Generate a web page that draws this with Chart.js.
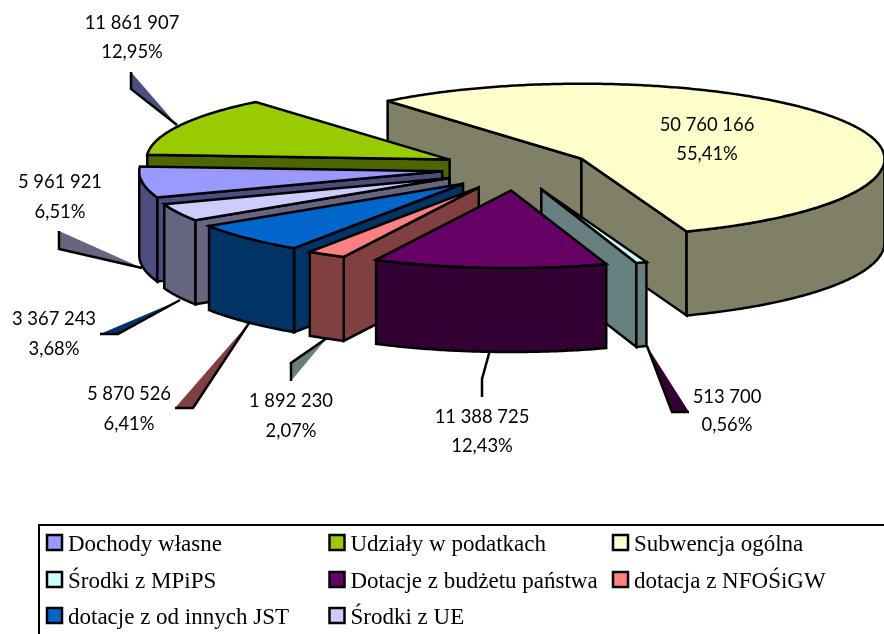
<!DOCTYPE html>
<html><head><meta charset="utf-8">
<style>html,body{margin:0;padding:0;background:#fff;overflow:hidden}canvas{display:block}</style>
<script src="https://cdn.jsdelivr.net/npm/chart.js@4/dist/chart.umd.min.js"></script>
</head><body><canvas id="c" width="884" height="634"></canvas>
<script>
const categories = ["Dochody własne","Udziały w podatkach","Subwencja ogólna","Środki z MPiPS","Dotacje z budżetu państwa","dotacja z NFOŚiGW","dotacje z od innych JST","Środki z UE"];
const amounts = [5961921,11861907,50760166,513700,11388725,1892230,5870526,3367243];
const percents = ["6,51%","12,95%","55,41%","0,56%","12,43%","2,07%","6,41%","3,68%"];
const sliceColors = ["#9999FF","#99CC00","#FFFFCC","#CCFFFF","#660066","#FF8080","#0066CC","#CCCCFF"];
const wallColors = ["#4D4D80","#4D6600","#808066","#668080","#330033","#804040","#003366","#666680"];

// Layout of the 3D projection and of the annotations (not data)
const K_BACK = 0.2475, K_FRONT = 0.256, K_OFF_FRONT = 0.3, DEPTH = 84, EXPLODE = 75, LW = 2.5;
const labelPos = [[60,182,30],[132,23,29],[707,125,29],[727,397,28],[482,417,29],[291,401,30],[129,394,30],[54,319,30]];
// leader wedges: fill polygon + stroked polyline
const leaders = [
 {fill:"#666680",poly:[[59,231],[59,249],[142,268]],line:[[59,231],[59,249],[142,268]]},
 {fill:"#4D4D80",poly:[[131,72],[131,89],[177,125]],line:[[131,72],[131,89],[177,125]]},
 {fill:"#330033",poly:[[647,346],[672,412],[689,412]],line:[[647,346],[672,412],[689,412]]},
 {fill:null,poly:null,line:[[490,350],[482,379],[482,397]]},
 {fill:"#668080",poly:[[291,363],[291,381],[327,338]],line:[[291,381],[291,363],[327,338]]},
 {fill:"#804040",poly:[[175,408],[193,408],[249,323]],line:[[175,408],[193,408],[249,323]]},
 {fill:"#003366",poly:[[100,334],[118,334],[180,300]],line:[[100,334],[118,334],[180,300]]}
];
const legendBox = {x:39,y:525};
const legendCols = [47,329.5,613], legendRows = [535,572,608], SW = 15;

function fmt(n){return String(n).replace(/\B(?=(\d{3})+$)/g," ");}

const pie3d = {
  id:"pie3d",
  beforeDatasetDraw(chart,args){
    const ctx = chart.ctx, arcs = args.meta.data;
    ctx.save();
    ctx.lineWidth = LW; ctx.lineJoin = "miter"; ctx.miterLimit = 4; ctx.strokeStyle = "#000";
    leaders.forEach(l=>{
      if(l.poly){ctx.beginPath();l.poly.forEach((p,i)=>i?ctx.lineTo(p[0],p[1]):ctx.moveTo(p[0],p[1]));ctx.closePath();ctx.fillStyle=l.fill;ctx.fill();}
      ctx.beginPath();l.line.forEach((p,i)=>i?ctx.lineTo(p[0],p[1]):ctx.moveTo(p[0],p[1]));ctx.stroke();
    });
    const order = arcs.map((a,i)=>i).sort((p,q)=>{
      const mp=(arcs[p].startAngle+arcs[p].endAngle)/2, mq=(arcs[q].startAngle+arcs[q].endAngle)/2;
      return Math.sin(mp)-Math.sin(mq);
    });
    order.forEach(i=>{
      const a = arcs[i], R = a.outerRadius, s = a.startAngle, e = a.endAngle, m = (s+e)/2;
      const sm = Math.sin(m);
      const ax = a.x+EXPLODE*Math.cos(m), ay = a.y+EXPLODE*sm*(sm>0?K_OFF_FRONT:K_BACK);
      const edge = t=>{const st=Math.sin(t);return [ax+R*Math.cos(t), ay+(st>0?K_FRONT:K_BACK)*R*st];};
      const trace = (from,to,dy)=>{
        const n=Math.max(2,Math.ceil(Math.abs(to-from)/0.01));
        for(let j=0;j<=n;j++){const p=edge(from+(to-from)*j/n);ctx.lineTo(p[0],p[1]+dy);}
      };
      const wall = pathFn=>{ctx.beginPath();pathFn();ctx.closePath();ctx.fillStyle=wallColors[i];ctx.fill();ctx.stroke();};
      const radial = t=>{const p=edge(t);wall(()=>{ctx.moveTo(ax,ay);ctx.lineTo(p[0],p[1]);ctx.lineTo(p[0],p[1]+DEPTH);ctx.lineTo(ax,ay+DEPTH);});};
      if(Math.cos(s)<0) radial(s);
      if(Math.cos(e)>0) radial(e);
      for(let n=-1;n<=1;n++){
        const lo=Math.max(s,2*Math.PI*n), hi=Math.min(e,Math.PI+2*Math.PI*n);
        if(lo<hi) wall(()=>{trace(lo,hi,0);trace(hi,lo,DEPTH);});
      }
      // top face: the library's own arc element, squashed separately behind and in front of its apex
      [[K_BACK,-2000,2000.5],[K_FRONT,0,2000]].forEach(([k,top,hgt])=>{
        ctx.save();
        ctx.beginPath();ctx.rect(-100,ay+top,1200,hgt);ctx.clip();
        ctx.translate(ax,ay);ctx.scale(1,k);ctx.translate(-a.x,-a.y);
        a.draw(ctx);
        ctx.restore();
      });
      ctx.beginPath();ctx.moveTo(ax,ay);trace(s,e,0);ctx.closePath();ctx.stroke();
    });
    ctx.restore();
    return false;
  },
  afterDraw(chart){
    const ctx = chart.ctx;
    ctx.save();
    ctx.fillStyle="#000";ctx.textAlign="center";ctx.textBaseline="middle";ctx.font='18.4px Lato';
    amounts.forEach((v,i)=>{
      const p=labelPos[i];
      ctx.fillText(fmt(v),p[0],p[1]);
      ctx.fillText(percents[i],p[0],p[1]+p[2]);
    });
    ctx.strokeStyle="#000";ctx.lineWidth=2;
    ctx.beginPath();ctx.moveTo(900,legendBox.y);ctx.lineTo(legendBox.x,legendBox.y);ctx.lineTo(legendBox.x,650);ctx.stroke();
    ctx.textAlign="left";ctx.textBaseline="alphabetic";ctx.font='23px "Liberation Serif"';
    categories.forEach((c,i)=>{
      const x=legendCols[i%3], y=legendRows[Math.floor(i/3)];
      ctx.fillStyle=sliceColors[i];ctx.fillRect(x,y,SW,SW);
      ctx.strokeStyle="#000";ctx.lineWidth=2.5;ctx.strokeRect(x,y,SW,SW);
      ctx.fillStyle="#000";ctx.fillText(c,x+21,y+15.5);
    });
    ctx.restore();
  }
};

new Chart(document.getElementById("c"),{
  type:"pie",
  data:{labels:categories,datasets:[{data:amounts,backgroundColor:sliceColors,borderWidth:0}]},
  options:{
    responsive:false,animation:false,
    rotation:-109.8,radius:303,
    layout:{padding:{left:149,bottom:298}},
    events:[],
    plugins:{legend:{display:false},tooltip:{enabled:false}}
  },
  plugins:[pie3d]
});
</script></body></html>
